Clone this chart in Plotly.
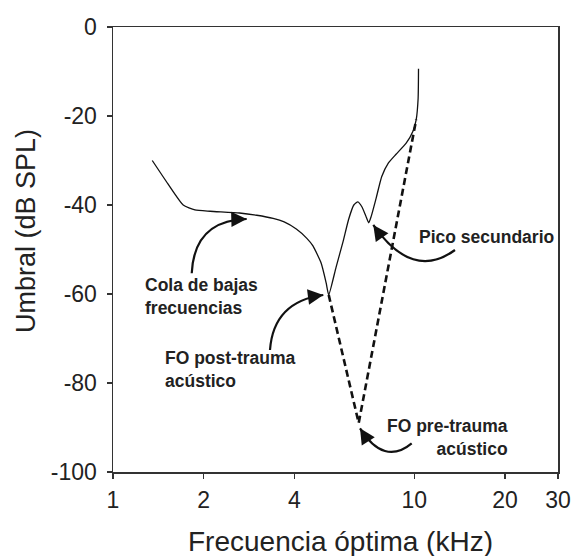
import math
import plotly.graph_objects as go

# ---- data ----
freq_khz = [1.35, 1.52, 1.71, 1.87, 2.1, 2.63, 3.0, 3.4, 3.7, 4.06, 4.4, 4.61, 4.91, 5.1, 5.2,
            5.5, 5.8, 6.05, 6.3, 6.5, 6.7, 6.9, 7.06, 7.2, 7.47, 7.8, 8.2, 8.7, 9.4, 9.9, 10.15, 10.3, 10.33]
umbral_db = [-30.0, -35.2, -40.0, -41.1, -41.4, -41.8, -42.3, -43.0, -43.8, -45.4, -47.5, -49.2, -53.1, -57.5, -60.2,
             -54.0, -48.3, -43.3, -40.0, -39.3, -40.4, -42.4, -44.0, -42.5, -38.5, -33.6, -30.6, -28.6, -26.1, -23.4, -20.8, -16.0, -9.4]

pre_freq_khz = [5.2, 6.54, 10.15]
pre_umbral_db = [-60.2, -89.0, -20.8]

x_tickvals = [1, 2, 4, 10, 20, 30]
x_ticktext = ["1", "2", "4", "10", "20", "30"]
y_tickvals = [0, -20, -40, -60, -80, -100]
y_ticktext = ["0", "-20", "-40", "-60", "-80", "-100"]

FONT = "Liberation Sans, Arial, sans-serif"
W, H = 574, 556
ML, MR, MT, MB = 113, 16, 27, 84
PW, PH = W - ML - MR, H - MT - MB

fig = go.Figure()
fig.add_trace(go.Scatter(x=freq_khz, y=umbral_db, mode="lines",
                         line=dict(color="#111", width=1.3, shape="spline", smoothing=0.5),
                         showlegend=False, hoverinfo="skip"))
fig.add_trace(go.Scatter(x=pre_freq_khz, y=pre_umbral_db, mode="lines",
                         line=dict(color="#111", width=2.6, dash="7px,4px"),
                         showlegend=False, hoverinfo="skip"))

def to_paper(px, py):
    return (px - ML) / PW, (MT + PH - py) / PH

# curved arrows: (tail, control, tip) in pixel space of the picture
arrows = [
    ((191.7, 273.3), (194.2, 220.4), (246.7, 219.0)),
    ((270.0, 350.0), (273.5, 301.5), (323.3, 295.0)),
    ((411.7, 443.3), (384.1, 466.2), (360.0, 428.3)),
    ((455.0, 250.0), (412.4, 281.1), (373.3, 225.0)),
]
shapes = []
annotations = []
for p0, p1, p2 in arrows:
    a = to_paper(*p0); b = to_paper(*p1); c = to_paper(*p2)
    shapes.append(dict(type="path", xref="paper", yref="paper",
                       path=f"M {a[0]:.4f},{a[1]:.4f} Q {b[0]:.4f},{b[1]:.4f} {c[0]:.4f},{c[1]:.4f}",
                       line=dict(color="#111", width=2.2)))
    dx, dy = p1[0] - p2[0], p1[1] - p2[1]
    n = math.hypot(dx, dy)
    annotations.append(dict(x=c[0], y=c[1], xref="paper", yref="paper", text="",
                            showarrow=True, arrowhead=2, arrowsize=1.4, arrowwidth=2.2,
                            arrowcolor="#111", ax=dx / n * 9, ay=dy / n * 9, standoff=0))

lab = dict(xref="paper", yref="paper", showarrow=False,
           font=dict(family=FONT, size=17.5, color="#222"))
def add_label(text, px, py, xanchor="left", align="left"):
    x, y = to_paper(px, py)
    annotations.append(dict(lab, text=text, x=x, y=y, xanchor=xanchor, yanchor="middle", align=align))

add_label("<b>Cola de bajas<br>frecuencias</b>", 143, 297)
add_label("<b>FO post-trauma<br>acústico</b>", 163, 369)
add_label("<b>FO pre-trauma<br>acústico</b>", 510, 437, xanchor="right", align="right")
add_label("<b>Pico secundario</b>", 417, 237)

# axis titles
tx, ty = to_paper(340, 541)
annotations.append(dict(text="Frecuencia óptima (kHz)", x=tx, y=ty, xref="paper", yref="paper",
                        showarrow=False, xanchor="center", yanchor="middle",
                        font=dict(family=FONT, size=28, color="#222")))
tx, ty = to_paper(26, 231)
annotations.append(dict(text="Umbral (dB SPL)", x=tx, y=ty, xref="paper", yref="paper",
                        showarrow=False, xanchor="center", yanchor="middle", textangle=-90,
                        font=dict(family=FONT, size=27, color="#222")))

axis_common = dict(showgrid=False, zeroline=False, showline=True, linecolor="#333", linewidth=1.5,
                   mirror=True, ticks="outside", ticklen=5, tickwidth=1.5, tickcolor="#333",
                   automargin=False,
                   tickfont=dict(family=FONT, size=23, color="#222"))

fig.update_layout(
    width=W, height=H,
    margin=dict(l=ML, r=MR, t=MT, b=MB, autoexpand=False),
    paper_bgcolor="white", plot_bgcolor="white",
    xaxis=dict(axis_common, type="log", range=[0, math.log10(30)],
               tickvals=x_tickvals, ticktext=x_ticktext, ticklabelstandoff=2),
    yaxis=dict(axis_common, range=[-100, 0], tickvals=y_tickvals, ticktext=y_ticktext,
               ticklabelstandoff=5),
    shapes=shapes, annotations=annotations,
)
fig.write_html("out.html", config={"displayModeBar": False, "staticPlot": True},
               post_script="document.body.style.margin='0';document.body.style.overflow='hidden';")
